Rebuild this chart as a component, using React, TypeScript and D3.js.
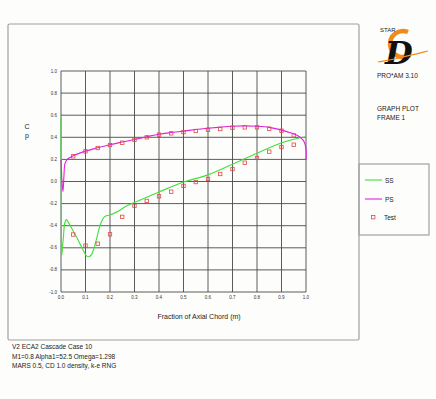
import React, { useEffect } from "react";
import * as d3 from "d3";

const xTicks = [0, 0.1, 0.2, 0.3, 0.4, 0.5, 0.6, 0.7, 0.8, 0.9, 1.0];
const yTicks = [1.0, 0.8, 0.6, 0.4, 0.2, 0.0, -0.2, -0.4, -0.6, -0.8, -1.0];

const ssX = [0, 0.001, 0.002, 0.003, 0.006, 0.01, 0.015, 0.022, 0.035, 0.05, 0.07, 0.09, 0.105, 0.115, 0.125, 0.135, 0.145, 0.155, 0.165, 0.175, 0.185, 0.2, 0.215, 0.233, 0.267, 0.3, 0.4, 0.5, 0.6, 0.7, 0.8, 0.9, 0.95, 1.0];
const ssY = [0.58, 0.0, -0.5, -0.67, -0.6, -0.5, -0.38, -0.345, -0.39, -0.45, -0.53, -0.62, -0.675, -0.68, -0.66, -0.6, -0.52, -0.43, -0.365, -0.325, -0.31, -0.303, -0.29, -0.27, -0.222, -0.19, -0.095, -0.005, 0.06, 0.156, 0.255, 0.35, 0.383, 0.405];

const psX = [0, 0.001, 0.004, 0.008, 0.012, 0.016, 0.025, 0.05, 0.1, 0.15, 0.2, 0.25, 0.3, 0.35, 0.4, 0.45, 0.5, 0.55, 0.6, 0.65, 0.7, 0.75, 0.8, 0.85, 0.9, 0.93, 0.95, 0.97, 0.99, 1.0, 1.0];
const psY = [0.195, 0.15, 0.0, -0.09, 0.05, 0.16, 0.2, 0.233, 0.275, 0.305, 0.333, 0.357, 0.38, 0.405, 0.428, 0.443, 0.456, 0.47, 0.482, 0.492, 0.5, 0.503, 0.5, 0.49, 0.465, 0.445, 0.43, 0.41, 0.37, 0.3, 0.195];

const testX = [0.05, 0.1, 0.15, 0.2, 0.25, 0.3, 0.35, 0.4, 0.45, 0.5, 0.55, 0.6, 0.65, 0.7, 0.75, 0.8, 0.85, 0.9, 0.95];
const testPS = [0.228, 0.273, 0.303, 0.33, 0.351, 0.378, 0.4, 0.424, 0.436, 0.447, 0.457, 0.469, 0.475, 0.487, 0.49, 0.49, 0.478, 0.46, 0.418];
const testSS = [-0.48, -0.58, -0.563, -0.478, -0.32, -0.22, -0.176, -0.134, -0.092, -0.04, -0.005, 0.023, 0.068, 0.113, 0.17, 0.213, 0.27, 0.312, 0.333];

const footer = [
  "V2 ECA2 Cascade Case 10",
  "M1=0.8 Alpha1=52.5 Omega=1.298",
  "MARS 0.5, CD 1.0 density, k-e RNG",
];

const SS_COLOR = "#3fe03a";
const PS_COLOR = "#e022dc";
const TEST_COLOR = "#e04848";
const FONT = "'Liberation Sans', Arial, sans-serif";

export default function App() {
  useEffect(() => {
    document.body.style.margin = "0";
  }, []);
  const x = d3.scaleLinear().domain([0, 1]).range([61, 306]);
  const y = d3.scaleLinear().domain([-1, 1]).range([292, 71]);
  const line = d3
    .line<[number, number]>()
    .x((d) => x(d[0]))
    .y((d) => y(d[1]))
    .curve(d3.curveCatmullRom.alpha(0.5));
  const ss = line(ssX.map((v, i) => [v, ssY[i]]) as [number, number][]) || "";
  const ps = line(psX.map((v, i) => [v, psY[i]]) as [number, number][]) || "";
  const tests: [number, number][] = [
    ...testX.map((v, i) => [v, testPS[i]] as [number, number]),
    ...testX.map((v, i) => [v, testSS[i]] as [number, number]),
  ];
  const swoosh = d3.line().curve(d3.curveBasis)([
    [378, 62],
    [400, 58],
    [428, 51],
  ]) || "";
  return (
    <svg width={436} height={399} style={{ display: "block" }} fontFamily={FONT}>
      <rect x={0} y={0} width={436} height={399} fill="#fdfefb" />
      <rect x={8} y={24} width={351} height={316} rx={1.5} fill="none" stroke="#a0a0a0" strokeWidth={1.2} />
      <rect x={359} y={164} width={70} height={71} fill="none" stroke="#a0a0a0" strokeWidth={1.2} />
      {/* grid */}
      {xTicks.map((t) => (
        <line key={"gx" + t} x1={x(t)} x2={x(t)} y1={y(1)} y2={y(-1)} stroke="#4a4a4a" strokeWidth={0.9} />
      ))}
      {yTicks.map((t) => (
        <line key={"gy" + t} x1={x(0)} x2={x(1)} y1={y(t)} y2={y(t)} stroke="#4a4a4a" strokeWidth={0.9} />
      ))}
      {yTicks.map((t) => (
        <text key={"ly" + t} x={57} y={y(t) + 1.5} fontSize={4.5} textAnchor="end" fill="#333">
          {t.toFixed(1)}
        </text>
      ))}
      {xTicks.map((t) => (
        <text key={"lx" + t} x={x(t)} y={299} fontSize={4.5} textAnchor="middle" fill="#333">
          {t.toFixed(1)}
        </text>
      ))}
      <text x={27} y={129} fontSize={7} textAnchor="middle" fill="#222">C</text>
      <text x={27} y={138} fontSize={7} textAnchor="middle" fill="#222">p</text>
      <text x={199} y={319} fontSize={7} textAnchor="middle" fill="#222">Fraction of Axial Chord (m)</text>
      {/* curves */}
      <path d={ss} fill="none" stroke={SS_COLOR} strokeWidth={1.1} />
      <path d={ps} fill="none" stroke={PS_COLOR} strokeWidth={1.1} />
      {tests.map((d, i) => (
        <rect key={"t" + i} x={x(d[0]) - 1.7} y={y(d[1]) - 1.7} width={3.4} height={3.4} fill="none" stroke={TEST_COLOR} strokeWidth={0.8} />
      ))}
      {/* legend */}
      <line x1={365} x2={382} y1={180} y2={180} stroke={SS_COLOR} strokeWidth={1.1} />
      <text x={385} y={182.5} fontSize={6.5} fill="#222">SS</text>
      <line x1={365} x2={382} y1={199} y2={199} stroke={PS_COLOR} strokeWidth={1.1} />
      <text x={385} y={201.5} fontSize={6.5} fill="#222">PS</text>
      <rect x={371.5} y={215.5} width={3.4} height={3.4} fill="none" stroke={TEST_COLOR} strokeWidth={0.8} />
      <text x={384} y={219.5} fontSize={6.5} fill="#222">Test</text>
      {/* logo */}
      <path d="M 408 32 A 13 13 0 1 0 410 55" fill="none" stroke="#f08a1c" strokeWidth={4.5} />
      <text x={380} y={32} fontSize={6} fill="#222">STAR</text>
      <text x={385} y={64} fontSize={32} fontFamily="'DejaVu Serif', serif" fontStyle="italic" fontWeight="bold" fill="#111">D</text>
      <path d={swoosh} fill="none" stroke="#f08a1c" strokeWidth={1.2} />
      <text x={377} y={77.5} fontSize={6.5} fill="#222">PRO*AM 3.10</text>
      <text x={377} y={111} fontSize={6.5} fill="#222">GRAPH PLOT</text>
      <text x={377} y={120} fontSize={6.5} fill="#222">FRAME 1</text>
      {footer.map((s, i) => (
        <text key={s} x={12} y={349 + i * 9.5} fontSize={6.5} fill="#222">{s}</text>
      ))}
    </svg>
  );
}
